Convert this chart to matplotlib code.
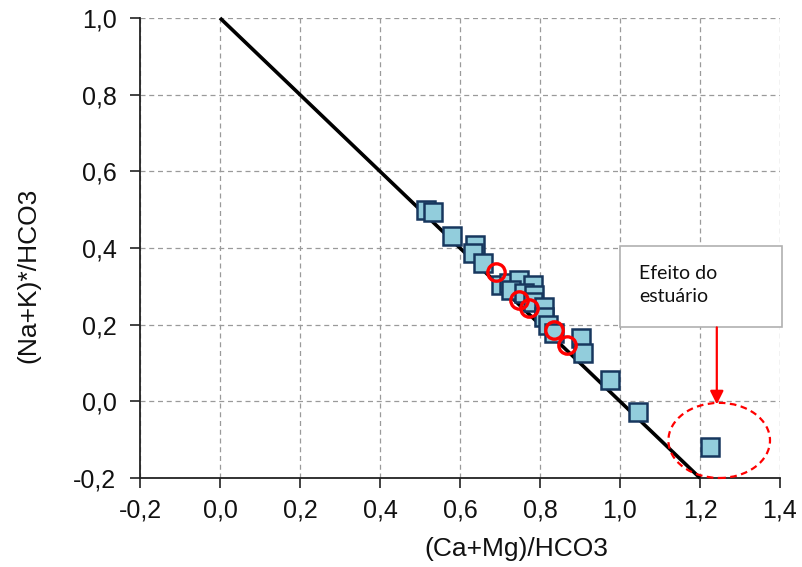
import matplotlib
matplotlib.use("Agg")
import matplotlib.pyplot as plt
from matplotlib.patches import Ellipse, Rectangle

# Data
sq_x = [0.516, 0.533, 0.580, 0.638, 0.633, 0.658, 0.702, 0.722, 0.747, 0.782,
        0.727, 0.760, 0.785, 0.782, 0.809, 0.809, 0.819, 0.834, 0.902, 0.907,
        0.976, 1.046, 1.225]
sq_y = [0.499, 0.493, 0.431, 0.407, 0.386, 0.360, 0.303, 0.308, 0.316, 0.303,
        0.290, 0.282, 0.277, 0.258, 0.245, 0.219, 0.198, 0.178, 0.164, 0.125,
        0.055, -0.029, -0.120]
circ_x = [0.690, 0.747, 0.772, 0.834, 0.867]
circ_y = [0.337, 0.264, 0.243, 0.185, 0.146]
line_x = [0.0, 1.2]
line_y = [1.0, -0.2]
x_ticks = [-0.2, 0.0, 0.2, 0.4, 0.6, 0.8, 1.0, 1.2, 1.4]
y_ticks = [-0.2, 0.0, 0.2, 0.4, 0.6, 0.8, 1.0]
x_label = "(Ca+Mg)/HCO3"
y_label = "(Na+K)*/HCO3"
note_text = "Efeito do\nestuário"

plt.rcParams['font.family'] = ['Liberation Sans', 'DejaVu Sans']

fig = plt.figure(figsize=(8.02, 5.67), dpi=100)
ax = fig.add_axes([140/802, 1 - 478/567, (780-140)/802, (478-18)/567])

ax.set_xlim(-0.2, 1.4)
ax.set_ylim(-0.2, 1.0)
ax.set_xticks(x_ticks)
ax.set_yticks(y_ticks)
fmt = lambda v: f"{v:.1f}".replace(".", ",")
ax.set_xticklabels([fmt(v) for v in x_ticks])
ax.set_yticklabels([fmt(v) for v in y_ticks])
ax.tick_params(labelsize=18, length=7, width=1.2, direction='out',
               color='#222222', labelcolor='#111111')
ax.tick_params(axis='x', pad=8)
ax.tick_params(axis='y', pad=10)

ax.grid(True, linestyle=(0, (4, 3)), color='#9a9a9a', linewidth=0.9)
ax.set_axisbelow(True)
for s in ['top', 'right']:
    ax.spines[s].set_visible(False)
for s in ['left', 'bottom']:
    ax.spines[s].set_linewidth(1.3)
    ax.spines[s].set_color('#222222')

ax.plot(line_x, line_y, color='black', linewidth=2.6, zorder=3, clip_on=False,
        solid_capstyle='butt')

ax.plot(sq_x, sq_y, linestyle='none', marker='s', markersize=13.5,
        markerfacecolor='#92CDDC', markeredgecolor='#17375E',
        markeredgewidth=1.8, zorder=4)
ax.plot(circ_x, circ_y, linestyle='none', marker='o', markersize=12.5,
        markerfacecolor='none', markeredgecolor='#FF0000',
        markeredgewidth=2.4, zorder=5)

ax.set_xlabel(x_label, fontsize=19, color='#111111')
ax.set_ylabel(y_label, fontsize=19, color='#111111')
ax.xaxis.set_label_coords((516 - 140) / 640, (478 - 537) / 460)
ax.yaxis.set_label_coords((40 - 140) / 640, (478 - 275) / 460)

# Estuary annotation
ell = Ellipse((1.248, -0.102), 0.254, 0.196, fill=False, edgecolor='#FF0000',
              linestyle=(0, (3, 2)), linewidth=1.6, zorder=6, clip_on=False)
ax.add_patch(ell)
rect = Rectangle((0.999, 0.193), 0.406, 0.212, facecolor='white',
                 edgecolor='#b0b0b0', linewidth=1.2, zorder=6, clip_on=False)
ax.add_patch(rect)
ax.text(1.047, 0.303, note_text, fontsize=14, family=['Lato', 'DejaVu Sans'],
        va='center', ha='left', linespacing=1.4, zorder=7, color='#111111')
ax.annotate('', xy=(1.242, -0.008), xytext=(1.242, 0.193),
            arrowprops=dict(arrowstyle='-|>', color='#FF0000', lw=1.6,
                            mutation_scale=20, shrinkA=0, shrinkB=0),
            zorder=7, annotation_clip=False)

fig.savefig("out.png", dpi=100)
